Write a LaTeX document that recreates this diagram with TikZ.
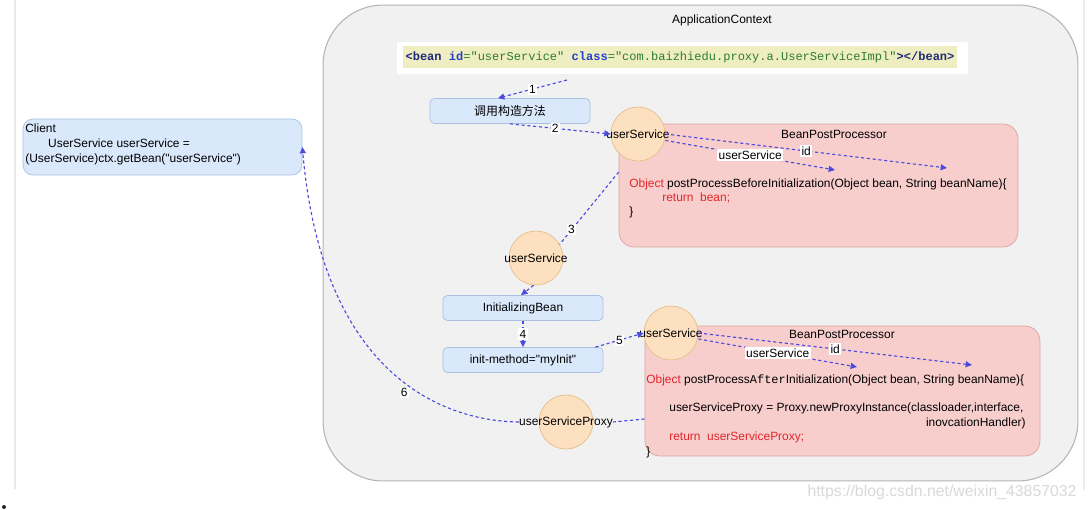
\documentclass[tikz,border=0pt]{standalone}
\usepackage{fontspec}
\newfontfamily\diagfam{Liberation Sans}
\newfontfamily\codefam{Liberation Mono}
\newfontfamily\cjkfam{Noto Sans CJK SC}
\usetikzlibrary{arrows.meta}

\definecolor{ctxfill}{HTML}{F1F1F1}
\definecolor{ctxline}{HTML}{B5B5B5}
\definecolor{bluefill}{HTML}{DAE8FC}
\definecolor{blueline}{HTML}{A9C0E0}
\definecolor{beanfill}{HTML}{FDE0C0}
\definecolor{beanline}{HTML}{E6BE88}
\definecolor{redfill}{HTML}{F8CECC}
\definecolor{redline}{HTML}{DDA3A1}
\definecolor{flow}{HTML}{4C4CDC}
\definecolor{kwred}{HTML}{E0262B}
\definecolor{xmlnavy}{HTML}{1E2A78}
\definecolor{xmlblue}{HTML}{2340C8}
\definecolor{xmlgreen}{HTML}{2E7D32}
\definecolor{xmlhl}{HTML}{EFEDC2}

\newcommand\diagsize{\fontsize{6.8}{8.5}\selectfont}
\newcommand\xmlsize{\fontsize{6.85}{8}\selectfont}

\begin{document}
\begin{tikzpicture}[x=0.02cm,y=-0.02cm,
  font=\diagfam\diagsize,
  flowline/.style={draw=flow, line width=0.65pt, dash pattern=on 1.8pt off 1.5pt},
  flowarrow/.style={flowline, -{Triangle[length=3.6pt,width=3.4pt]}},
  steplbl/.style={fill=white, inner sep=0.8pt, text=black},
  stepbox/.style={draw=blueline, fill=bluefill, rounded corners=2.5pt,
    minimum width=3.2cm, minimum height=0.5cm, inner sep=0pt},
  beancircle/.style={circle, draw=beanline, fill=beanfill, minimum size=1.08cm, inner sep=0pt},
  procbox/.style={draw=redline, fill=redfill, rounded corners=0.3cm, inner sep=0pt},
  codeline/.style={anchor=west, inner sep=0pt}]

\useasboundingbox (0,0) rectangle (1089,510);
\fill[white] (0,0) rectangle (1089,510);

% screenshot edges
\draw[gray!18, line width=0.6pt] (15,0) -- (15,489);
\draw[gray!15, line width=1.2pt] (1084,0) -- (1084,490);
\fill[black!85] (4,507) circle (2);

% application context
\node[draw=ctxline, fill=ctxfill, rounded corners=1.2cm, minimum width=15.1cm,
  minimum height=9.52cm, line width=0.6pt] (ctx) at (700.5,243) {};
\node (ctxtitle) at (722,20) {ApplicationContext};

\node[fill=white, minimum width=11.42cm, minimum height=0.64cm] (xmlbox) at (682.5,58) {};
\node[fill=xmlhl, inner xsep=1.5pt, minimum height=0.38cm, font=\codefam\xmlsize] (xmltext) at (680,57)
  {{\color{xmlnavy}\bfseries<bean} {\color{xmlblue}\bfseries id}{\color{xmlgreen}="userService"} {\color{xmlblue}\bfseries class}{\color{xmlgreen}="com.baizhiedu.proxy.a.UserServiceImpl"}{\color{xmlnavy}\bfseries></bean>}};

% client
\node[draw=blueline, fill=bluefill, rounded corners=0.2cm, minimum width=5.58cm,
  minimum height=1.12cm] (client) at (162.5,147) {};
\node[codeline, align=left] (clienttxt) at (25,144.5)
  {Client\\\hspace*{13pt}UserService userService =\\(UserService)ctx.getBean("userService")};

% steps
\node[stepbox, font=\cjkfam\diagsize] (ctor) at (510,111) {调用构造方法};
\node[stepbox] (init) at (523,308) {InitializingBean};
\node[stepbox] (myinit) at (523,360) {init-method="myInit"};

% post processors
\node[procbox, minimum width=7.98cm, minimum height=2.46cm] (bpp1) at (818.5,185.5) {};
\node (bpp1title) at (834,134) {BeanPostProcessor};
\node[codeline] (bpp1a) at (629,184)
  {{\color{kwred}Object} postProcessBeforeInitialization(Object bean, String beanName)\{};
\node[codeline, text=kwred] (bpp1b) at (662,198) {return\ \ bean;};
\node[codeline] (bpp1c) at (629,212) {\}};

\node[procbox, minimum width=7.9cm, minimum height=2.6cm] (bpp2) at (842.5,391) {};
\node (bpp2title) at (842,334) {BeanPostProcessor};
\node[codeline] (bpp2a) at (646,380)
  {{\color{kwred}Object} postProcess{\codefam After}Initialization(Object bean, String beanName)\{};
\node[codeline] (bpp2b) at (669,408) {userServiceProxy = Proxy.newProxyInstance(classloader,interface,};
\node[codeline, anchor=east] (bpp2c) at (1026,423) {inovcationHandler)};
\node[codeline, text=kwred] (bpp2d) at (669,437) {return\ \ userServiceProxy;};
\node[codeline] (bpp2e) at (646,452) {\}};

% beans
\node[beancircle] (c1) at (638,134) {};
\node[beancircle] (c2) at (536,258) {};
\node[beancircle] (c3) at (671,333) {};
\node[beancircle] (c4) at (566,422) {};
\node[inner sep=0pt] (c1txt) at (c1) {userService};
\node[inner sep=0pt] (c2txt) at (c2) {userService};
\node[inner sep=0pt] (c3txt) at (c3) {userService};
\node[inner sep=0pt] (c4txt) at (c4) {userServiceProxy};

\coordinate (s1) at (567,80);
\coordinate (p1a) at (835,170);
\coordinate (p1b) at (947,168);
\coordinate (p2a) at (857,367);
\coordinate (p2b) at (972,365);

% flow
\draw[flowarrow] (s1) -- node[steplbl] {1} ([xshift=-0.24cm]ctor.north);
\draw[flowarrow] (ctor.south) -- node[steplbl, pos=0.45] {2} (c1.west);
\draw[flowline] ([yshift=0.27cm]bpp1.west) -- node[steplbl, pos=0.8] {3} (c2.30);
\draw[flowarrow] (c2.265) -- ([xshift=-0.04cm]init.north);
\draw[flowarrow] (init.south) -- node[steplbl] {4} (myinit.north);
\draw[flowarrow] ([xshift=-0.16cm]myinit.north east) -- node[steplbl] {5} (c3.west);

\draw[flowarrow] (c1.east) -- node[steplbl] {id} (p1b);
\draw[flowarrow] ([yshift=-0.13cm]c1.east) -- node[steplbl] {userService} (p1a);
\draw[flowarrow] (c3.east) -- node[steplbl] {id} (p2b);
\draw[flowarrow] ([yshift=-0.12cm]c3.east) -- node[steplbl] {userService} (p2a);

\draw[flowline] ([yshift=-0.56cm]bpp2.west) -- (c4txt.east);
\draw[flowarrow] (c4txt.west) .. controls (440,421) and (322,372) ..
  node[steplbl, pos=0.4, xshift=-0.2cm, yshift=-0.06cm] {6} (client.east);

% watermark
\node[text=gray!30, font=\diagfam\fontsize{9}{10}\selectfont] (mark) at (942,492)
  {https://blog.csdn.net/weixin\_43857032};

\end{tikzpicture}
\end{document}
